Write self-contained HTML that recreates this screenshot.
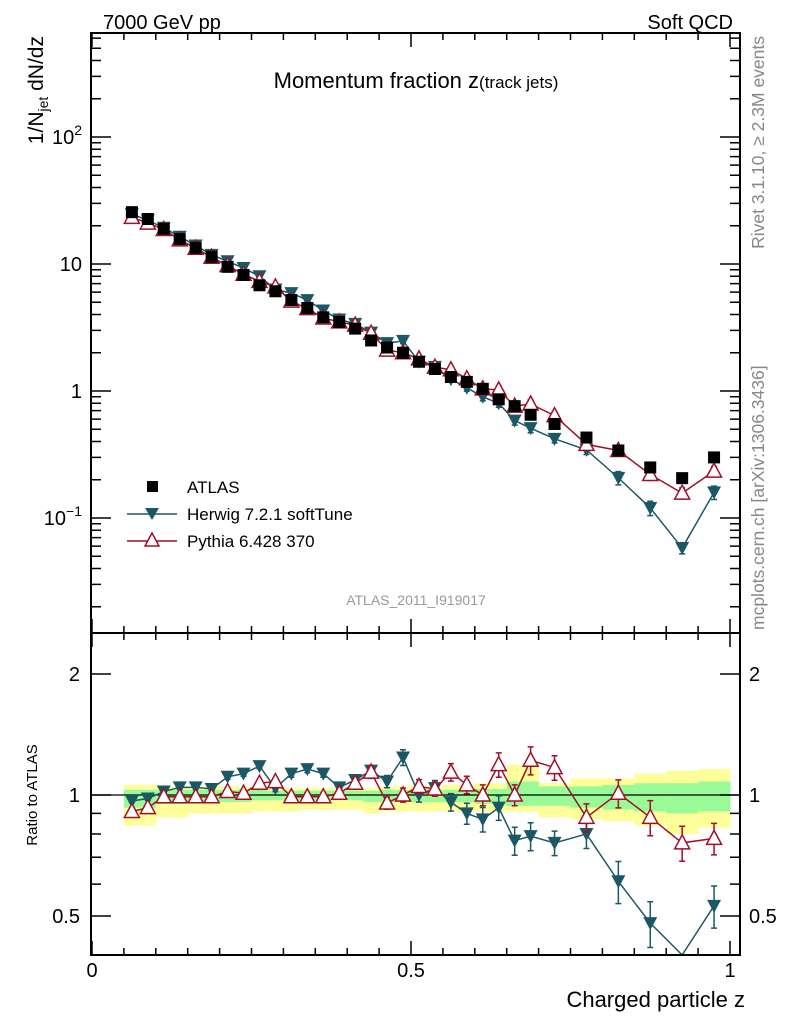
<!DOCTYPE html>
<html><head><meta charset="utf-8"><style>
body{margin:0;background:#fff}
svg{display:block;font-family:"Liberation Sans",sans-serif}
</style></head><body>
<svg id="chart" width="786" height="1024" viewBox="0 0 786 1024" xmlns="http://www.w3.org/2000/svg">
<g id="bands"></g>
<g id="marks"></g>
<g id="axes"></g>
<text x="103" y="29" font-size="20">7000 GeV pp</text>
<text x="733" y="29" font-size="20" text-anchor="end">Soft QCD</text>
<text x="416" y="88" font-size="22" text-anchor="middle">Momentum fraction z<tspan font-size="17">(track jets)</tspan></text>
<text transform="translate(43,36) rotate(-90)" font-size="21" text-anchor="end">1/N<tspan font-size="14" dy="5">jet</tspan><tspan dy="-5"> dN/dz</tspan></text>
<text transform="translate(764,36) rotate(-90)" font-size="17.5" fill="#888" text-anchor="end">Rivet 3.1.10, ≥ 2.3M events</text>
<text transform="translate(764,630) rotate(-90)" font-size="17.5" fill="#888">mcplots.cern.ch [arXiv:1306.3436]</text>
<text x="416" y="605" font-size="14" fill="#999" text-anchor="middle">ATLAS_2011_I919017</text>
<text transform="translate(37,795) rotate(-90)" font-size="15" text-anchor="middle">Ratio to ATLAS</text>
<text x="745" y="1007" font-size="22" text-anchor="end">Charged particle z</text>
<g>
<rect x="147" y="481" width="11" height="11" fill="#000"/>
<text x="187" y="493" font-size="17">ATLAS</text>
<line x1="127" y1="514" x2="177" y2="514" stroke="#1b5866" stroke-width="1.5"/>
<path d="M145,508 L159,508 L152,520 Z" fill="#1b5866"/>
<text x="187" y="520" font-size="17">Herwig 7.2.1 softTune</text>
<line x1="127" y1="541" x2="177" y2="541" stroke="#a0102a" stroke-width="1.5"/>
<path d="M152,533 L159,546 L145,546 Z" fill="#fff" stroke="#a0102a" stroke-width="1.5"/>
<text x="187" y="547" font-size="17">Pythia 6.428 370</text>
</g>
</svg>
<script>
const zCenters=[0.0625,0.0875,0.1125,0.1375,0.1625,0.1875,0.2125,0.2375,0.2625,0.2875,0.3125,0.3375,0.3625,0.3875,0.4125,0.4375,0.4625,0.4875,0.5125,0.5375,0.5625,0.5875,0.6125,0.6375,0.6625,0.6875,0.725,0.775,0.825,0.875,0.925,0.975];
const zLow=[0.05,0.075,0.1,0.125,0.15,0.175,0.2,0.225,0.25,0.275,0.3,0.325,0.35,0.375,0.4,0.425,0.45,0.475,0.5,0.525,0.55,0.575,0.6,0.625,0.65,0.675,0.7,0.75,0.8,0.85,0.9,0.95];
const zHigh=[0.075,0.1,0.125,0.15,0.175,0.2,0.225,0.25,0.275,0.3,0.325,0.35,0.375,0.4,0.425,0.45,0.475,0.5,0.525,0.55,0.575,0.6,0.625,0.65,0.675,0.7,0.75,0.8,0.85,0.9,0.95,1.0];
const atlas=[25.6,22.6,18.9,15.7,13.4,11.4,9.5,8.2,6.8,6.1,5.2,4.5,3.8,3.5,3.1,2.5,2.2,2.0,1.7,1.49,1.29,1.18,1.04,0.86,0.76,0.65,0.55,0.43,0.34,0.25,0.206,0.30];
const herwig=[24.7,22.1,19.3,16.4,14.0,11.8,10.5,9.3,8.0,6.3,5.9,5.2,4.3,3.66,3.38,2.88,2.38,2.48,1.70,1.55,1.24,1.06,0.90,0.80,0.585,0.51,0.42,0.344,0.207,0.12,0.058,0.159];
const pythia=[23.3,21.0,18.7,15.5,13.3,11.3,9.7,8.3,7.3,6.6,5.1,4.45,3.76,3.5,3.3,2.85,2.1,2.0,1.79,1.54,1.47,1.25,1.04,1.02,0.76,0.79,0.64,0.38,0.34,0.22,0.157,0.234];
const herwigRatio=[0.966,0.98,1.02,1.045,1.045,1.035,1.11,1.13,1.18,1.04,1.13,1.16,1.13,1.045,1.09,1.15,1.08,1.24,1.0,1.04,0.96,0.90,0.87,0.93,0.77,0.79,0.76,0.80,0.61,0.48,0.28,0.53];
const pythiaRatio=[0.91,0.93,0.99,0.99,0.99,0.99,1.02,1.01,1.07,1.08,0.99,0.99,0.99,1.01,1.07,1.14,0.955,1.0,1.05,1.035,1.14,1.06,1.0,1.19,1.0,1.22,1.17,0.88,1.01,0.88,0.76,0.78];
const herwigErr=[0.01,0.01,0.01,0.012,0.012,0.012,0.015,0.015,0.015,0.02,0.02,0.02,0.02,0.025,0.03,0.03,0.035,0.045,0.04,0.045,0.05,0.06,0.07,0.07,0.08,0.08,0.07,0.08,0.12,0.13,0.1,0.12];
const pythiaErr=[0.01,0.01,0.01,0.012,0.012,0.012,0.015,0.015,0.015,0.02,0.02,0.02,0.02,0.025,0.03,0.035,0.035,0.04,0.04,0.04,0.05,0.05,0.06,0.07,0.06,0.08,0.07,0.08,0.08,0.1,0.1,0.09];
const yellowUp=[1.06,1.06,1.05,1.05,1.05,1.05,1.05,1.05,1.05,1.04,1.04,1.04,1.04,1.04,1.04,1.04,1.05,1.05,1.05,1.05,1.06,1.06,1.07,1.07,1.19,1.19,1.07,1.10,1.10,1.13,1.15,1.16];
const yellowLo=[0.84,0.84,0.88,0.88,0.90,0.90,0.90,0.90,0.91,0.91,0.91,0.92,0.92,0.92,0.92,0.90,0.91,0.91,0.91,0.91,0.91,0.91,0.91,0.91,0.91,0.91,0.88,0.87,0.86,0.84,0.80,0.83];
const greenUp=[1.03,1.03,1.03,1.03,1.03,1.03,1.03,1.03,1.03,1.025,1.025,1.025,1.025,1.025,1.025,1.025,1.03,1.03,1.03,1.03,1.03,1.03,1.035,1.035,1.08,1.08,1.05,1.05,1.06,1.07,1.07,1.08];
const greenLo=[0.93,0.93,0.95,0.95,0.96,0.96,0.96,0.96,0.97,0.97,0.97,0.97,0.97,0.97,0.97,0.96,0.96,0.96,0.96,0.96,0.96,0.96,0.95,0.95,0.94,0.94,0.94,0.93,0.92,0.91,0.90,0.91];
const yMainTicks=["10⁻¹","1","10","10²"];

const NS="http://www.w3.org/2000/svg";
const X0=92,XS=638, L=91,R=740, TOP=33, MID=633, BOT=955;
const xs=z=>X0+z*XS;
const ym=v=>391-127*Math.log10(v);
const yr=v=>795-402*Math.log10(v);
function mk(tag,attrs,parent){const e=document.createElementNS(NS,tag);for(const k in attrs)e.setAttribute(k,attrs[k]);parent.appendChild(e);return e;}
const bands=document.getElementById('bands'),marks=document.getElementById('marks'),axes=document.getElementById('axes');

for(let i=0;i<zCenters.length;i++){
  const y=mk('rect',{x:xs(zLow[i]),y:yr(yellowUp[i]),width:xs(zHigh[i])-xs(zLow[i])+0.5,height:yr(yellowLo[i])-yr(yellowUp[i]),fill:'#ffff99'},bands);
  
  
  const g=mk('rect',{x:xs(zLow[i]),y:yr(greenUp[i]),width:xs(zHigh[i])-xs(zLow[i])+0.5,height:yr(greenLo[i])-yr(greenUp[i]),fill:'#98fb98'},bands);
  
  
}
const one=mk('line',{x1:L,x2:R,y1:yr(1),y2:yr(1),stroke:'#000','stroke-width':1.3},bands);



function clipY(y,top,bot){return Math.max(top,Math.min(bot,y));}
function series(vals,rel,yf,color,kind,name,top,bot){
  const pts=vals.map((v,i)=>[xs(zCenters[i]),clipY(yf(v),top,bot)]);
  const pl=mk('polyline',{points:pts.map(p=>p.join(',')).join(' '),fill:'none',stroke:color,'stroke-width':1.5},marks);
  
  
  vals.forEach((v,i)=>{
    const x=pts[i][0];
    const e=rel[i]*v;
    const y1=clipY(yf(v+e),top,bot),y2=clipY(yf(Math.max(v-e,1e-3)),top,bot);
    const eb=mk('path',{d:`M${x},${y1}V${y2}M${x-3},${y1}H${x+3}M${x-3},${y2}H${x+3}`,stroke:color,'stroke-width':1.5,fill:'none'},marks);
    
    
    const y=yf(v);
    if(y<top||y>bot)return;
    let m;
    if(kind==='down')m=mk('path',{d:`M${x-7},${y-6}L${x+7},${y-6}L${x},${y+7}Z`,fill:color},marks);
    else m=mk('path',{d:`M${x},${y-8}L${x+7.5},${y+6}L${x-7.5},${y+6}Z`,fill:'#fff',stroke:color,'stroke-width':1.5},marks);
    
    
  });
}
series(herwig,herwigErr,ym,'#1b5866','down','herwig-main',TOP,MID);
series(pythia,pythiaErr,ym,'#a0102a','up','pythia-main',TOP,MID);
atlas.forEach((v,i)=>{
  const r=mk('rect',{x:xs(zCenters[i])-6,y:ym(v)-6,width:12,height:12,fill:'#000'},marks);
  
  
});
series(herwigRatio,herwigErr,yr,'#1b5866','down','herwig-ratio',MID,BOT);
series(pythiaRatio,pythiaErr,yr,'#a0102a','up','pythia-ratio',MID,BOT);

[[TOP,MID,'main-frame'],[MID,BOT,'ratio-frame']].forEach(([t,b,n])=>{
  const f=mk('rect',{x:L,y:t,width:R-L,height:b-t,fill:'none',stroke:'#000','stroke-width':2},axes);
  
  
});
let d='';
for(let k=0;k<=20;k++){const z=k*0.05,x=xs(z),len=(k%10===0)?14:7;
  for(const [t,b] of [[TOP,MID],[MID,BOT]]){d+=`M${x},${b}V${b-len}M${x},${t}V${t+len}`;}}
for(let e=-2;e<=2;e++)for(let m=1;m<10;m++){const v=m*Math.pow(10,e),y=ym(v);if(y<TOP||y>MID)continue;const len=m===1?20:10;d+=`M${L},${y}H${L+len}M${R},${y}H${R-len}`;}
[0.4,0.5,0.6,0.7,0.8,0.9,1,2].forEach(v=>{const y=yr(v);const len=(v===0.5||v===1||v===2)?20:10;d+=`M${L},${y}H${L+len}M${R},${y}H${R-len}`;});
const tk=mk('path',{d:d,stroke:'#000','stroke-width':1.5,fill:'none'},axes);



const mainVals=[0.1,1,10,100];
mainVals.forEach((v,i)=>{
  const t=mk('text',{x:82,y:ym(v)+7,'font-size':20,'text-anchor':'end'},axes);
  const s=yMainTicks[i];
  if(s.startsWith('10')&&s.length>2){t.textContent='10';const sp=mk('tspan',{dy:-9,'font-size':14},t);sp.textContent=s==='10²'?'2':'−1';}
  else t.textContent=s;
  
  
});
[[2,'2'],[1,'1'],[0.5,'0.5']].forEach(([v,s])=>{
  for(const [x,a] of [[80,'end'],[749,'start']]){
    const t=mk('text',{x:x,y:yr(v)+7,'font-size':20,'text-anchor':a},axes);t.textContent=s;
    
    
  }
});
[[0,'0'],[0.5,'0.5'],[1,'1']].forEach(([z,s])=>{
  const t=mk('text',{x:xs(z),y:977,'font-size':20,'text-anchor':'middle'},axes);t.textContent=s;
  
  
});
</script>
</body></html>
